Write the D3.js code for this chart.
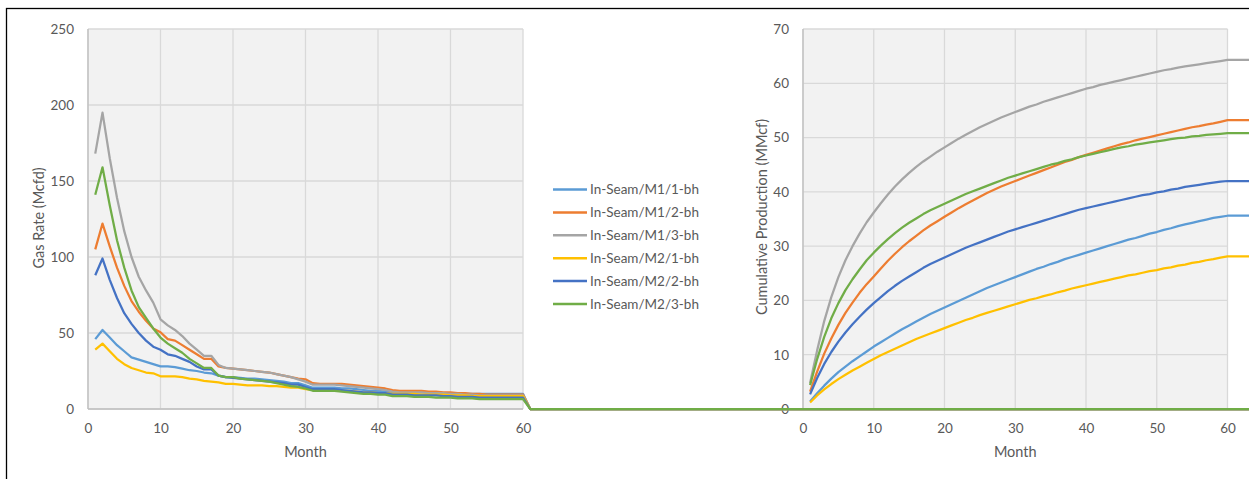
<!DOCTYPE html>
<html>
<head>
<meta charset="utf-8">
<script src="https://cdn.jsdelivr.net/npm/d3@7"></script>
<style>
  html, body { margin: 0; padding: 0; background: #fff; }
  svg { display: block; }
  text { font-family: Lato, "Open Sans", sans-serif; fill: #595959; }
</style>
</head>
<body>
<svg id="chart" width="1249" height="479"></svg>
<script>
// ---------------- data ----------------
const seriesNames = ["In-Seam/M1/1-bh", "In-Seam/M1/2-bh", "In-Seam/M1/3-bh",
                     "In-Seam/M2/1-bh", "In-Seam/M2/2-bh", "In-Seam/M2/3-bh"];
const seriesColors = ["#5B9BD5", "#ED7D31", "#A5A5A5", "#FFC000", "#4472C4", "#70AD47"];

// months 1..60 followed by tail months (production stopped)
const months = d3.range(1, 61);
const rateTailMonths = [61, 165];
const rateTailValues = [0, 0];
const cumTailMonths = [61, 66];

// Gas rate (Mcfd)
const rateM1_1 = [46,52,47,42,38,34,32.5,31,29.5,28, 28,27.5,26.5,25.5,25,24,23.5,22,21,21,
  20.5,20,20,19.5,19,18.5,18,17,17,15.5, 14,14,14,14,13.5,13.5,13,12.5,12,12,
  11.5,11,11,11,11,11,11,11,10.5,10.5, 10.5,10,10,10,10,10,10,10,10,10];
const rateM1_2 = [105,122,107,93,81,71,64,58,53,50.5, 46,45,42,39,36,33,33,28,27,26.5,
  26,25.5,25,24.5,24,23,22,21,20,19.5, 17,16.5,16.5,16.5,16.5,16,15.5,15,14.5,14,
  13.5,12.5,12,12,12,12,11.5,11.5,11,11, 10.5,10.5,10,10,9.5,9.5,9.5,9.5,9.5,9.5];
const rateM1_3 = [168,195,165,139,117,100,87,78,70,59, 55,52,48,43,39,35,35,29,27,26.5,
  26,25.5,25,24.5,24,23,22,21,19.5,18, 16,16,16,16,15.5,15,14.5,14,13.5,13,
  12.5,11.5,11,11,11,11,10.5,10.5,10.5,10, 10,9.5,9.5,9,9,9,9,9,9,9];
const rateM2_1 = [39,43,38,33,29.5,27,25.5,24,23.5,21.5, 21.5,21.5,21,20,19.5,18.5,18,17.5,16.5,16.5,
  16,15.5,15.5,15.5,15,15,14.5,14,14,13, 12.5,12.5,12.5,12.5,12,12,11.5,11,11,10.5,
  10.5,10,10,10,10,9.5,9.5,9.5,9.5,9, 9,9,8.5,8.5,8.5,8.5,8.5,8.5,8.5,8.5];
const rateM2_2 = [88,99,85,73,63,56,50,45,41,39, 36,35,33,31,28,26,26,22,21,20.5,
  20,19.5,19,18.5,18,17.5,17,16,16,14.5, 13,13,13,13,12.5,12,11.5,11,11,10.5,
  10.5,9.5,9.5,9.5,9,9,9,9,8.5,8.5, 8,8,8,7.5,7.5,7.5,7.5,7.5,7.5,7.5];
const rateM2_3 = [141,159,134,111,93,78,67,60,53,47, 43,40,37,33,30,27,27,22,21,21,
  20,19.5,19,18.5,18,17,16,15,14.5,13.5, 12,12,12,12,11.5,11,10.5,10,10,9.5,
  9.5,8.5,8.5,8.5,8,8,8,7.5,7.5,7.5, 7,7,7,6.5,6.5,6.5,6.5,6.5,6.5,6.5];

// Cumulative production (MMcf)
const cumM1_1 = [1.4,2.9,4.3,5.6,6.8,7.8,8.8,9.7,10.6,11.5, 12.3,13.1,13.9,14.7,15.4,16.1,16.8,17.5,18.1,18.7,
  19.3,19.9,20.5,21.1,21.7,22.3,22.8,23.3,23.8,24.3, 24.8,25.3,25.8,26.2,26.7,27.1,27.6,28.0,28.4,28.8,
  29.2,29.6,30.0,30.4,30.8,31.2,31.5,31.9,32.3,32.6, 33.0,33.3,33.7,34.0,34.3,34.6,34.9,35.2,35.4,35.6];
const cumM1_2 = [3.2,6.9,10.2,13.0,15.5,17.7,19.6,21.4,23.0,24.4, 25.9,27.3,28.6,29.8,30.9,31.9,32.9,33.8,34.6,35.4,
  36.2,37.0,37.7,38.4,39.1,39.8,40.4,41.0,41.5,42.0, 42.5,43.0,43.5,44.0,44.5,45.0,45.5,45.9,46.4,46.8,
  47.2,47.6,48.0,48.4,48.8,49.1,49.5,49.8,50.1,50.4, 50.7,51.0,51.3,51.6,51.9,52.1,52.4,52.6,52.9,53.2];
const cumM1_3 = [4.8,10.8,16.2,20.6,24.3,27.4,30.0,32.3,34.4,36.2, 37.9,39.5,41.0,42.3,43.5,44.6,45.6,46.5,47.4,48.2,
  49.0,49.8,50.5,51.2,51.9,52.5,53.1,53.7,54.2,54.7, 55.2,55.7,56.1,56.6,57.0,57.4,57.8,58.2,58.6,59.0,
  59.3,59.7,60.0,60.3,60.6,60.9,61.2,61.5,61.8,62.1, 62.4,62.6,62.9,63.1,63.3,63.5,63.7,63.9,64.1,64.3];
const cumM2_1 = [1.2,2.5,3.6,4.6,5.5,6.3,7.1,7.8,8.5,9.2, 9.9,10.5,11.1,11.7,12.3,12.9,13.4,13.9,14.4,14.9,
  15.4,15.9,16.4,16.8,17.3,17.7,18.1,18.5,18.9,19.3, 19.7,20.1,20.4,20.8,21.1,21.5,21.8,22.2,22.5,22.8,
  23.1,23.4,23.7,24.0,24.3,24.6,24.8,25.1,25.4,25.6, 25.9,26.1,26.4,26.6,26.9,27.1,27.4,27.6,27.9,28.1];
const cumM2_2 = [2.7,5.7,8.3,10.5,12.4,14.1,15.6,17.0,18.3,19.5, 20.6,21.7,22.7,23.6,24.4,25.2,26.0,26.7,27.3,27.9,
  28.5,29.1,29.7,30.2,30.7,31.2,31.7,32.2,32.7,33.1, 33.5,33.9,34.3,34.7,35.1,35.5,35.9,36.3,36.7,37.0,
  37.3,37.6,37.9,38.2,38.5,38.8,39.1,39.4,39.6,39.9, 40.1,40.4,40.6,40.9,41.1,41.3,41.5,41.7,41.9,42.0];
const cumM2_3 = [4.4,9.2,13.3,16.7,19.5,21.9,23.9,25.7,27.4,28.8, 30.1,31.3,32.4,33.4,34.3,35.1,35.9,36.6,37.2,37.8,
  38.4,39.0,39.6,40.1,40.6,41.1,41.6,42.1,42.6,43.0, 43.4,43.8,44.2,44.6,45.0,45.3,45.7,46.0,46.4,46.7,
  47.0,47.3,47.6,47.9,48.2,48.4,48.7,48.9,49.1,49.3, 49.5,49.7,49.9,50.0,50.2,50.3,50.5,50.6,50.7,50.8];

const rateSeries = [rateM1_1, rateM1_2, rateM1_3, rateM2_1, rateM2_2, rateM2_3];
const cumSeries = [cumM1_1, cumM1_2, cumM1_3, cumM2_1, cumM2_2, cumM2_3];

const xTicks = [0, 10, 20, 30, 40, 50, 60];
const rateTicks = [0, 50, 100, 150, 200, 250];
const cumTicks = [0, 10, 20, 30, 40, 50, 60, 70];

// ---------------- drawing ----------------
const svg = d3.select("#chart");
const GRID = "#d9d9d9", AXIS = "#bfbfbf", LINE_W = 2.25;

// outer frame
svg.append("rect").attr("x", 6.5).attr("y", 8.5).attr("width", 1400).attr("height", 600)
  .attr("fill", "none").attr("stroke", "#000").attr("stroke-width", 1.3);

function panel(cfg) {
  const g = svg.append("g");
  const x = d3.scaleLinear().domain([0, 60]).range([cfg.left, cfg.right]);
  const y = d3.scaleLinear().domain(cfg.yDomain).range([409, 29]);
  g.append("rect").attr("x", cfg.left).attr("y", 29).attr("width", cfg.right - cfg.left)
    .attr("height", 380).attr("fill", "#f2f2f2");
  // gridlines
  g.selectAll(".vg").data(xTicks).join("line")
    .attr("x1", d => x(d)).attr("x2", d => x(d)).attr("y1", 29).attr("y2", 409)
    .attr("stroke", GRID).attr("stroke-width", 1.3);
  g.selectAll(".hg").data(cfg.yTicks).join("line")
    .attr("x1", cfg.left).attr("x2", cfg.right).attr("y1", d => y(d)).attr("y2", d => y(d))
    .attr("stroke", GRID).attr("stroke-width", 1.3);
  g.append("line").attr("x1", cfg.left).attr("x2", cfg.left).attr("y1", 29).attr("y2", 409)
    .attr("stroke", AXIS).attr("stroke-width", 1.3);
  g.append("line").attr("x1", cfg.left).attr("x2", cfg.right).attr("y1", 409).attr("y2", 409)
    .attr("stroke", AXIS).attr("stroke-width", 1.3);
  // axes via d3 axes
  const ax = g.append("g").attr("transform", "translate(0,409)")
    .call(d3.axisBottom(x).tickValues(xTicks).tickSize(0).tickPadding(14));
  ax.select(".domain").remove();
  const ay = g.append("g").attr("transform", `translate(${cfg.left},0)`)
    .call(d3.axisLeft(y).tickValues(cfg.yTicks).tickSize(0).tickPadding(14));
  ay.select(".domain").remove();
  g.selectAll(".tick text").attr("font-size", 13.5).attr("fill", "#595959")
    .style("font-family", "Lato, 'Open Sans', sans-serif");
  // titles
  g.append("text").attr("x", (cfg.left + cfg.right) / 2).attr("y", 457)
    .attr("text-anchor", "middle").attr("font-size", 14.5).text("Month");
  g.append("text").attr("transform", `translate(${cfg.titleX},${cfg.titleY}) rotate(-90)`)
    .attr("text-anchor", "middle").attr("font-size", 14.5).text(cfg.yTitle);
  return { x, y };
}

const left = panel({ left: 88, right: 523, yDomain: [0, 250], yTicks: rateTicks,
  yTitle: "Gas Rate (Mcfd)", titleX: 44, titleY: 218 });
const right = panel({ left: 803, right: 1227.5, yDomain: [0, 70], yTicks: cumTicks,
  yTitle: "Cumulative Production (MMcf)", titleX: 767, titleY: 217 });

// right panel lines (flat after month 60)
const lineR = d3.line().x(d => right.x(d[0])).y(d => right.y(d[1]));
cumSeries.forEach((s, i) => {
  const pts = months.map((m, k) => [m, s[k]])
    .concat(cumTailMonths.map(m => [m, s[s.length - 1]]));
  svg.append("path").datum(pts).attr("d", lineR).attr("fill", "none")
    .attr("stroke", seriesColors[i]).attr("stroke-width", LINE_W)
    .attr("stroke-linejoin", "round");
});

// left panel lines (drop to zero after month 60, drawn unclipped)
const lineL = d3.line().x(d => left.x(d[0])).y(d => left.y(d[1]));
rateSeries.forEach((s, i) => {
  const pts = months.map((m, k) => [m, s[k]])
    .concat(rateTailMonths.map((m, k) => [m, rateTailValues[k]]));
  svg.append("path").datum(pts).attr("d", lineL).attr("fill", "none")
    .attr("stroke", seriesColors[i]).attr("stroke-width", LINE_W)
    .attr("stroke-linejoin", "round");
});

// legend
const legend = svg.append("g");
seriesNames.forEach((name, i) => {
  const yy = 189.5 + i * 22.9;
  legend.append("line").attr("x1", 553).attr("x2", 587).attr("y1", yy).attr("y2", yy)
    .attr("stroke", seriesColors[i]).attr("stroke-width", 2.5);
  legend.append("text").attr("x", 590).attr("y", yy).attr("dy", "0.35em")
    .attr("font-size", 13.5).text(name);
});
</script>
</body>
</html>
